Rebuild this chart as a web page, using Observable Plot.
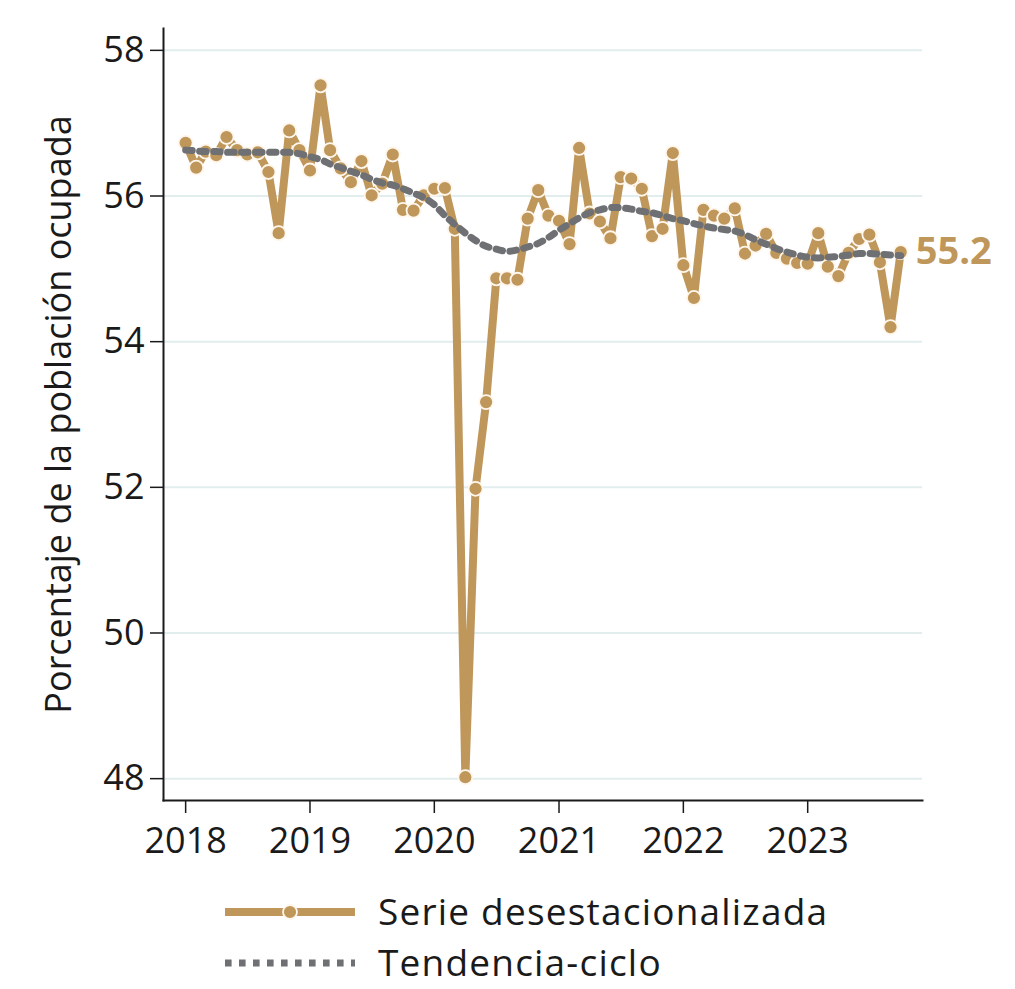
<!DOCTYPE html>
<html><head><meta charset="utf-8">
<script src="https://cdn.jsdelivr.net/npm/d3@7"></script>
<script src="https://cdn.jsdelivr.net/npm/@observablehq/plot@0.6"></script>
<style>
body{margin:0;background:#fff;font-family:"Open Sans",sans-serif;}
#chart svg{display:block;}
</style></head><body>
<div id="chart"></div>
<div id="legend"></div>
<script>
const firstYear = 2018;
const serie = [
  56.73, 56.39, 56.61, 56.56, 56.81, 56.63, 56.57, 56.60, 56.33, 55.49, 56.90, 56.63,
  56.35, 57.52, 56.63, 56.38, 56.19, 56.48, 56.01, 56.17, 56.57, 55.81, 55.80, 56.01,
  56.10, 56.11, 55.55, 48.02, 51.98, 53.17, 54.87, 54.87, 54.85, 55.69, 56.08, 55.73,
  55.66, 55.34, 56.66, 55.76, 55.65, 55.42, 56.26, 56.24, 56.10, 55.45, 55.55, 56.59,
  55.05, 54.60, 55.81, 55.73, 55.69, 55.83, 55.21, 55.32, 55.48, 55.22, 55.14, 55.08,
  55.07, 55.49, 55.03, 54.90, 55.22, 55.41, 55.47, 55.09, 54.20, 55.23
];
const tendencia = [
  56.63, 56.62, 56.61, 56.61, 56.60, 56.60, 56.60, 56.60, 56.60, 56.60, 56.60, 56.58,
  56.54, 56.50, 56.44, 56.39, 56.34, 56.29, 56.23, 56.18, 56.15, 56.10, 56.04, 55.98,
  55.88, 55.73, 55.61, 55.49, 55.39, 55.31, 55.27, 55.24, 55.26, 55.30, 55.35, 55.43,
  55.53, 55.62, 55.70, 55.77, 55.81, 55.84, 55.84, 55.82, 55.79, 55.77, 55.73, 55.69,
  55.66, 55.62, 55.59, 55.56, 55.54, 55.52, 55.47, 55.40, 55.34, 55.28, 55.23, 55.19,
  55.16, 55.15, 55.16, 55.17, 55.19, 55.21, 55.21, 55.20, 55.19, 55.18
];
const yTicks = [48, 50, 52, 54, 56, 58];
const xTickYears = [2018, 2019, 2020, 2021, 2022, 2023];
const serieName = "Serie desestacionalizada";
const tendName = "Tendencia-ciclo";
const yTitle = "Porcentaje de la población ocupada";

const TAN = "#BF975B";
const GRAY = "#6E7073";

const data = serie.map((v, i) => ({
  date: new Date(Date.UTC(firstYear, i, 1)),
  serie: v,
  tend: tendencia[i]
}));
const last = data[data.length - 1];

const chart = Plot.plot({
  width: 1015,
  height: 880,
  marginLeft: 163,
  marginRight: 93,
  marginTop: 28,
  marginBottom: 80,
  style: {fontFamily: "'Open Sans', sans-serif", background: "#fff", color: "#1a1a1a"},
  x: {type: "utc", domain: [new Date(Date.UTC(2017, 9, 28)), new Date(Date.UTC(2023, 11, 4))]},
  y: {domain: [47.70, 58.30]},
  marks: [
    Plot.ruleY(yTicks, {stroke: "#E2EDEE", strokeWidth: 2}),
    Plot.axisY({ticks: yTicks, tickSize: 13, tickPadding: 6, fontSize: 36, strokeWidth: 1.5,
      label: yTitle, labelAnchor: "center", labelArrow: "none", labelOffset: 118}),
    Plot.axisX({ticks: xTickYears.map(y => new Date(Date.UTC(y, 0, 1))), tickFormat: d3.utcFormat("%Y"),
      tickSize: 13, tickPadding: 14, fontSize: 36, strokeWidth: 1.5, label: null}),
    Plot.frame({anchor: "left", strokeWidth: 2}),
    Plot.frame({anchor: "bottom", strokeWidth: 2}),
    Plot.line(data, {x: "date", y: "serie", stroke: TAN, strokeWidth: 8, strokeLinejoin: "miter"}),
    Plot.dot(data, {x: "date", y: "serie", r: 7, fill: TAN, stroke: "#FFF6EC", strokeWidth: 1.8}),
    Plot.line(data, {x: "date", y: "tend", stroke: GRAY, strokeWidth: 7, strokeDasharray: "6.5,7.5", curve: "catmull-rom"}),
    Plot.text([last], {x: "date", y: "serie", text: d => d.serie.toFixed(1), dx: 15, textAnchor: "start",
      fill: TAN, fontSize: 38, fontWeight: "bold"})
  ]
});
document.getElementById("chart").appendChild(chart);

// Legend below the chart
const lg = d3.select("#legend").append("svg").attr("width", 1015).attr("height", 109)
  .style("display", "block").style("font-family", "'Open Sans', sans-serif");
const r1 = 32, r2 = 83;
lg.append("line").attr("x1", 225).attr("x2", 355).attr("y1", r1).attr("y2", r1)
  .attr("stroke", TAN).attr("stroke-width", 8);
lg.append("circle").attr("cx", 290).attr("cy", r1).attr("r", 7)
  .attr("fill", TAN).attr("stroke", "#FFF6EC").attr("stroke-width", 1.8);
lg.append("text").attr("x", 378).attr("y", r1).attr("dy", "0.35em")
  .attr("font-size", 37).attr("letter-spacing", "1.2px").attr("fill", "#1a1a1a").text(serieName);
lg.append("line").attr("x1", 225).attr("x2", 355).attr("y1", r2).attr("y2", r2)
  .attr("stroke", GRAY).attr("stroke-width", 7).attr("stroke-dasharray", "6.6,7.4");
lg.append("text").attr("x", 378).attr("y", r2).attr("dy", "0.35em")
  .attr("font-size", 37).attr("letter-spacing", "1.2px").attr("fill", "#1a1a1a").text(tendName);
</script>
</body></html>
